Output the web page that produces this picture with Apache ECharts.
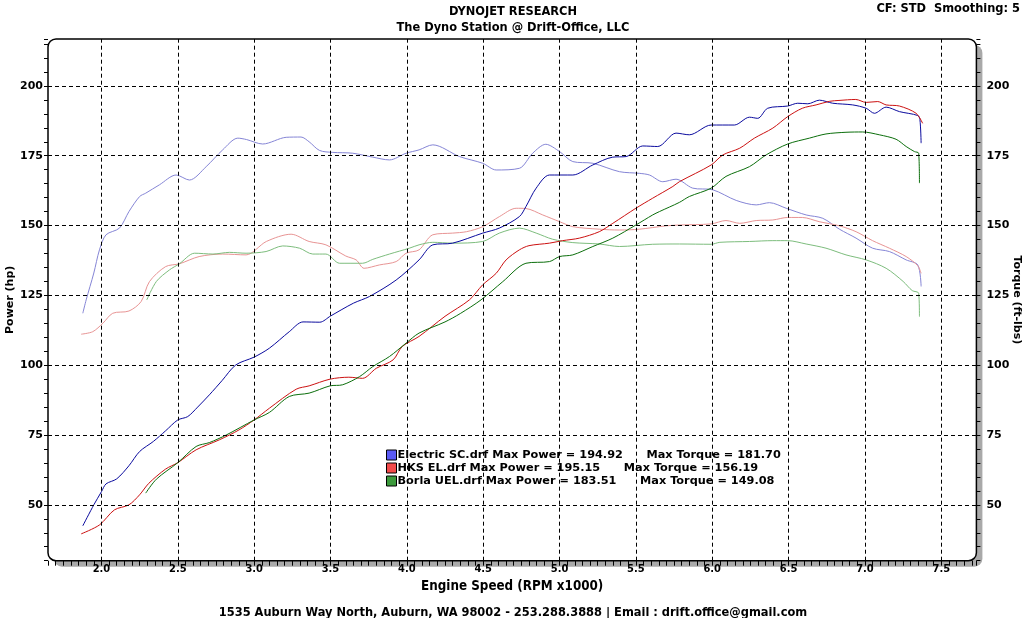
<!DOCTYPE html>
<html>
<head>
<meta charset="utf-8">
<script src="https://cdn.jsdelivr.net/npm/echarts@6/dist/echarts.min.js"></script>
<style>
html,body{margin:0;padding:0;background:#fff;}
#chart{width:1026px;height:618px;}
</style>
</head>
<body>
<div id="chart"></div>
<script>
// ---- tick labels / grid positions ----
const xTicks = [2.0, 2.5, 3.0, 3.5, 4.0, 4.5, 5.0, 5.5, 6.0, 6.5, 7.0, 7.5];
const yTicks = [50, 75, 100, 125, 150, 175, 200];

// ---- series values [rpm x1000, value] ----
const elecPower = [[1.878,42.5],[1.95,50],[2.0,54.7],[2.03,57.5],[2.10,59.3],[2.18,64],[2.25,69.1],[2.34,72.7],[2.42,76.5],[2.50,80.4],[2.565,81.6],[2.63,85],[2.707,89.4],[2.79,94.5],[2.88,100.1],[3.0,102.9],[3.10,106.1],[3.23,112.0],[3.32,115.5],[3.43,115.4],[3.50,117.6],[3.65,122.2],[3.755,124.6],[3.93,130.5],[4.08,137.7],[4.17,143.1],[4.30,143.7],[4.497,147.3],[4.606,149.1],[4.737,153.2],[4.78,156.8],[4.847,163.4],[4.934,168.1],[5.087,168.1],[5.218,171.7],[5.349,174.5],[5.436,174.7],[5.545,178.5],[5.643,178.3],[5.763,183.1],[5.85,182.5],[5.993,186.0],[6.145,186.0],[6.244,188.8],[6.298,188.4],[6.363,192.0],[6.494,192.8],[6.56,193.8],[6.626,193.6],[6.702,194.9],[6.789,193.8],[6.92,193.2],[7.008,192.0],[7.062,190.2],[7.139,192.4],[7.226,190.8],[7.346,189.4],[7.36,188],[7.368,179.5]];
const elecTorque = [[1.878,118.6],[1.90,123.4],[1.95,133],[1.987,141.3],[2.03,146.7],[2.118,149.1],[2.18,155.0],[2.25,160.4],[2.29,161.6],[2.38,164.6],[2.489,168.1],[2.576,166.3],[2.686,171.1],[2.794,177.1],[2.893,181.3],[2.95,180.8],[3.056,179.2],[3.21,181.6],[3.307,181.7],[3.36,180],[3.428,176.9],[3.515,176.2],[3.646,175.9],[3.777,174.5],[3.886,173.5],[3.995,175.9],[4.08,177.1],[4.17,178.9],[4.345,174.7],[4.497,172.3],[4.585,169.9],[4.737,170.5],[4.824,175.9],[4.91,179.1],[5.0,176.5],[5.087,172.9],[5.218,172.3],[5.392,169.3],[5.523,168.7],[5.589,168.1],[5.676,165.7],[5.763,166.6],[5.872,163.4],[6.004,162.8],[6.157,159.0],[6.288,157.4],[6.375,158.2],[6.484,156.2],[6.615,153.8],[6.724,152.6],[6.833,148.7],[6.942,145.5],[7.05,141.9],[7.16,140.7],[7.27,137.7],[7.346,135.9],[7.368,128.2]];
const hksPower = [[1.867,39.6],[1.987,42.8],[2.085,48.2],[2.18,50.0],[2.25,53.6],[2.31,57.7],[2.42,62.8],[2.50,65.1],[2.62,69.7],[2.773,73.3],[2.90,76.8],[3.00,80.4],[3.10,84.6],[3.275,91.4],[3.36,92.6],[3.497,95.0],[3.62,95.7],[3.71,95.3],[3.80,98.9],[3.91,101.9],[3.97,106.7],[4.08,110.3],[4.25,117.5],[4.41,123.4],[4.497,128.8],[4.585,132.9],[4.65,137.7],[4.737,141.3],[4.80,142.8],[4.934,143.7],[5.02,144.6],[5.13,145.5],[5.26,147.8],[5.349,150.8],[5.50,156.2],[5.61,159.8],[5.742,164.0],[5.785,165.7],[5.993,171.7],[6.07,175.3],[6.18,177.7],[6.276,181.3],[6.397,184.9],[6.494,189.0],[6.59,192.0],[6.68,193.2],[6.77,194.5],[6.83,194.8],[6.94,195.15],[7.008,194.1],[7.084,194.4],[7.139,193.2],[7.226,192.8],[7.335,190.2],[7.378,186.6]];
const hksTorque = [[1.867,111.1],[1.943,112.0],[2.009,115.0],[2.074,118.6],[2.18,119.4],[2.26,122.8],[2.314,129.9],[2.42,135.3],[2.51,136.3],[2.64,138.9],[2.794,139.8],[2.947,139.5],[3.08,144.3],[3.242,146.9],[3.36,144.3],[3.47,143.1],[3.60,139.1],[3.668,137.7],[3.72,134.7],[3.82,135.9],[3.93,137.1],[3.995,140.1],[4.08,141.3],[4.17,146.7],[4.30,147.3],[4.39,147.8],[4.497,149.6],[4.606,153.2],[4.716,156.19],[4.78,156.1],[4.89,153.8],[5.0,151.4],[5.087,149.6],[5.26,148.7],[5.392,148.4],[5.523,148.7],[5.698,149.9],[5.785,150.2],[5.993,150.6],[6.09,151.8],[6.18,150.8],[6.288,151.8],[6.397,152.0],[6.494,152.9],[6.59,152.9],[6.70,151.4],[6.833,149.9],[6.942,147.8],[7.05,144.6],[7.16,141.9],[7.27,138.9],[7.346,135.6],[7.368,132.9]];
const borlaPower = [[2.29,54.2],[2.36,59.2],[2.50,65.1],[2.62,70.9],[2.707,72.3],[2.817,75.0],[3.0,80.4],[3.10,83.1],[3.23,88.8],[3.36,90.0],[3.497,92.6],[3.58,93.0],[3.69,95.9],[3.777,99.5],[3.886,103.1],[3.995,107.9],[4.08,111.5],[4.25,115.5],[4.35,118.5],[4.486,123.4],[4.628,129.9],[4.78,136.5],[4.934,137.1],[5.0,138.9],[5.087,139.5],[5.218,142.5],[5.349,145.5],[5.50,150.2],[5.61,153.8],[5.654,155.0],[5.785,158.3],[5.85,160.4],[5.993,163.4],[6.09,167.6],[6.244,171.1],[6.353,175.3],[6.494,179.2],[6.636,181.3],[6.745,182.8],[6.876,183.4],[6.985,183.51],[7.094,182.5],[7.204,180.9],[7.27,178.3],[7.324,176.5],[7.352,175.9],[7.357,165.2]];
const borlaTorque = [[2.297,123.4],[2.36,130.0],[2.445,134.1],[2.51,136.3],[2.61,140.1],[2.73,139.8],[2.838,140.4],[2.947,140.1],[3.078,140.7],[3.187,142.7],[3.297,141.9],[3.384,139.8],[3.47,139.8],[3.56,136.5],[3.71,136.5],[3.777,137.9],[3.886,139.8],[4.017,141.9],[4.08,143.1],[4.17,144.0],[4.30,143.7],[4.497,144.3],[4.606,147.3],[4.737,149.08],[4.847,147.3],[4.955,145.1],[5.087,143.9],[5.26,143.4],[5.392,142.5],[5.61,143.3],[5.785,143.4],[5.993,143.3],[6.05,144.0],[6.244,144.3],[6.397,144.6],[6.494,144.6],[6.615,143.4],[6.745,141.9],[6.876,139.5],[7.008,137.7],[7.139,134.7],[7.25,130.0],[7.31,126.7],[7.352,125.8],[7.357,117.4]];

const runNames = ['Electric SC.drf', 'HKS EL.drf', 'Borla UEL.drf'];
const maxPower = ['194.92', '195.15', '183.51'];
const maxTorque = ['181.70', '156.19', '149.08'];

// ---- layout / style ----
const xMin = 1.65, xMax = 7.73, yMin = 30, yMax = 216.8;
const G = {left: 48, top: 39, width: 928.4, height: 521.7};
const FV = '"DejaVu Sans", Verdana, sans-serif';
const FC = '"DejaVu Sans Condensed", "Liberation Sans Narrow", "Liberation Sans", sans-serif';
const powerColors = ['#0a0a9e', '#cc1111', '#0b6e0b'];
const torqueColors = ['#8585d6', '#e89494', '#7dbd7d'];
const iconColors = ['#5a5af5', '#f24a4a', '#3c9a3c'];

const chart = echarts.init(document.getElementById('chart'), null, {renderer: 'canvas'});

function near(v, step) { return Math.abs(v / step - Math.round(v / step)) < 1e-6; }

const powerData = [elecPower, hksPower, borlaPower];
const torqueData = [elecTorque, hksTorque, borlaTorque];
const series = [];
series.push({
  type: 'line', data: [], xAxisIndex: 0, yAxisIndex: 0, silent: true, z: 1,
  markLine: {
    silent: true, symbol: 'none', label: {show: false},
    lineStyle: {color: '#000', width: 1, type: [4, 3]},
    animation: false,
    data: xTicks.map(v => ({xAxis: v})).concat(yTicks.map(v => ({yAxis: v})))
  }
});
for (let i = 0; i < 3; i++) {
  series.push({
    name: runNames[i], type: 'line', data: torqueData[i], xAxisIndex: 0, yAxisIndex: 1,
    showSymbol: false, symbol: 'none', smooth: 0.3, z: 3,
    lineStyle: {color: torqueColors[i], width: 1}, itemStyle: {color: iconColors[i]}
  });
}
for (let i = 0; i < 3; i++) {
  series.push({
    name: runNames[i], type: 'line', data: powerData[i], xAxisIndex: 0, yAxisIndex: 0,
    showSymbol: false, symbol: 'none', smooth: 0.3, z: 4,
    lineStyle: {color: powerColors[i], width: 1}, itemStyle: {color: iconColors[i]}
  });
}

const legendText = {};
const legendPad = ['      ', '      ', '      '];
runNames.forEach((n, i) => {
  legendText[n] = n + ' Max Power = ' + maxPower[i] + legendPad[i] + 'Max Torque = ' + maxTorque[i];
});

const yAxisCommon = {
  type: 'value', min: yMin, max: yMax, interval: 5,
  axisLine: {show: false},
  axisTick: {show: true, length: 4, lineStyle: {color: '#000', width: 1}},
  splitLine: {show: false},
  nameMoveOverlap: false,
  axisLabel: {
    fontFamily: FV, fontWeight: 'bold', fontSize: 11, color: '#000',
    formatter: v => (near(v, 25) && v >= 50 && v <= 200) ? String(Math.round(v)) : ''
  }
};
const titleStyle = {fontFamily: FC, fontWeight: 'bold', fontSize: 12.7, color: '#000'};

const option = {
  animation: false,
  backgroundColor: '#fff',
  title: [
    {text: 'DYNOJET RESEARCH', left: 'center', top: 5, padding: 0, textStyle: titleStyle},
    {text: 'The Dyno Station @ Drift-Office, LLC', left: 'center', top: 21, padding: 0, textStyle: titleStyle},
    {text: 'CF: STD  Smoothing: 5', right: 6, top: 2, padding: 0, textStyle: titleStyle},
    {text: '1535 Auburn Way North, Auburn, WA 98002 - 253.288.3888 | Email : drift.office@gmail.com',
     left: 'center', top: 606, padding: 0, textStyle: titleStyle}
  ],
  graphic: [
    {type: 'rect', z: -20, silent: true,
     shape: {x: G.left + 6, y: G.top + 6, width: G.width, height: G.height, r: 8},
     style: {fill: '#a9a9a9', stroke: null}},
    {type: 'rect', z: -10, silent: true,
     shape: {x: G.left, y: G.top, width: G.width, height: G.height, r: 8},
     style: {fill: '#fff', stroke: '#000', lineWidth: 1.5}}
  ],
  legend: {
    show: true, orient: 'vertical', left: 386, top: 449, padding: 0,
    itemWidth: 10, itemHeight: 10, itemGap: 1,
    icon: 'rect', selectedMode: false,
    data: runNames.map((n, i) => ({name: n, itemStyle: {color: iconColors[i], borderColor: '#000', borderWidth: 1}})),
    formatter: n => legendText[n],
    textStyle: {fontFamily: FV, fontWeight: 'bold', fontSize: 11.3, lineHeight: 12, color: '#000', padding: [0, 0, 0, -4]}
  },
  grid: {left: G.left, top: G.top, width: G.width, height: G.height, show: false,
         containLabel: false, outerBoundsMode: 'none'},
  xAxis: [{
    type: 'value', min: xMin, max: xMax, interval: 0.05,
    name: 'Engine Speed (RPM x1000)', nameLocation: 'middle', nameGap: 19,
    nameMoveOverlap: false,
    nameTextStyle: {fontFamily: FC, fontWeight: 'bold', fontSize: 13.3, color: '#000'},
    axisLine: {show: false},
    axisTick: {show: true, length: 5, lineStyle: {color: '#000', width: 1}},
    splitLine: {show: false},
    axisLabel: {
      margin: 3, fontFamily: FC, fontWeight: 'bold', fontSize: 11, color: '#000',
      formatter: v => (near(v, 0.5) && v > 1.9 && v < 7.6) ? v.toFixed(1) : ''
    }
  }],
  yAxis: [
    Object.assign({}, yAxisCommon, {
      position: 'left', name: 'Power (hp)', nameLocation: 'middle', nameRotate: 90, nameGap: 32,
      nameTextStyle: {fontFamily: FV, fontWeight: 'bold', fontSize: 11, color: '#000'},
      axisLabel: Object.assign({}, yAxisCommon.axisLabel, {margin: 5})
    }),
    Object.assign({}, yAxisCommon, {
      position: 'right', name: 'Torque (ft-lbs)', nameLocation: 'middle', nameRotate: -90, nameGap: 35,
      nameTextStyle: {fontFamily: FV, fontWeight: 'bold', fontSize: 11, color: '#000'},
      axisLabel: Object.assign({}, yAxisCommon.axisLabel, {margin: 10})
    })
  ],
  series: series
};
chart.setOption(option);
</script>
</body>
</html>
